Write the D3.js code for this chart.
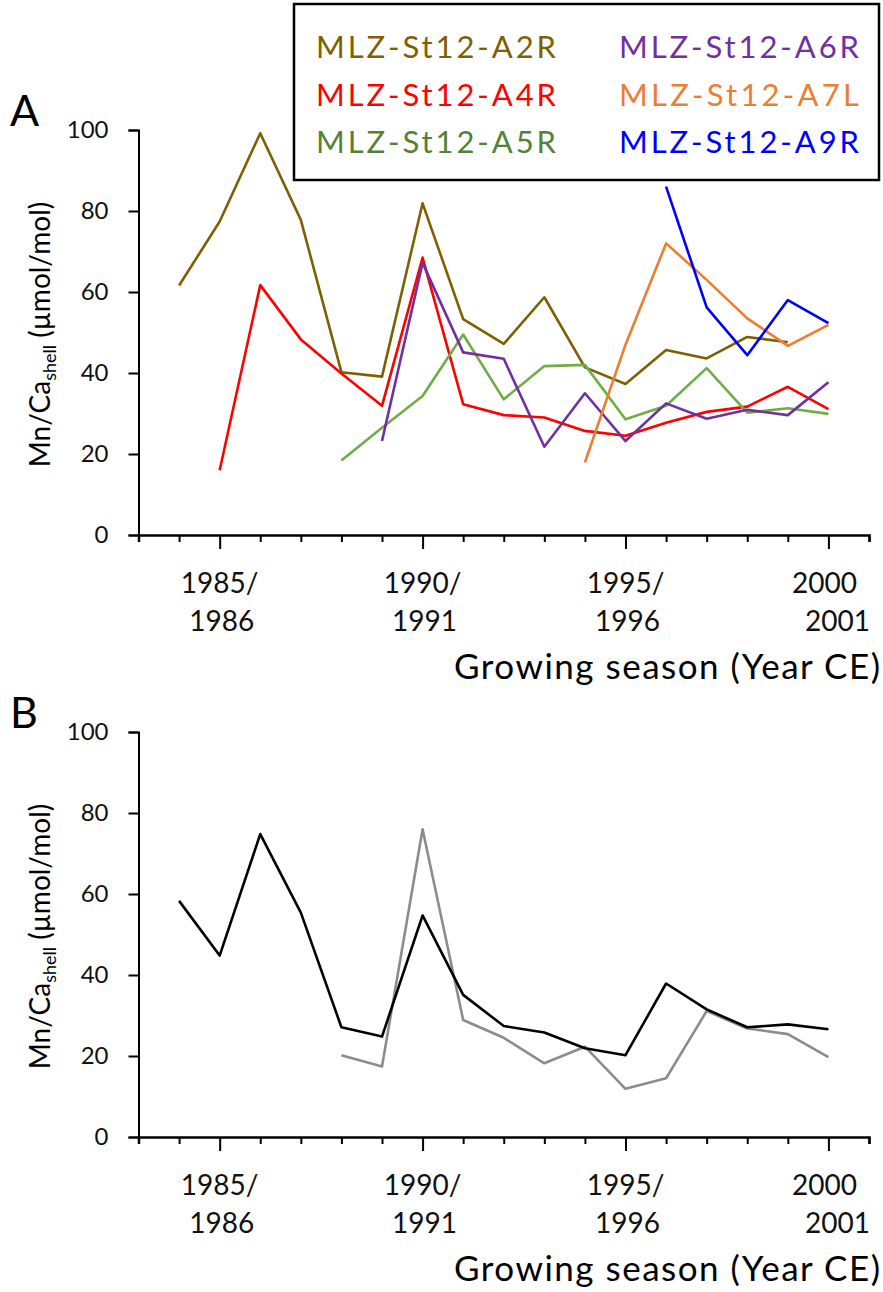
<!DOCTYPE html>
<html>
<head>
<meta charset="utf-8">
<script src="https://cdn.jsdelivr.net/npm/d3@7"></script>
<style>
  body { margin: 0; background: #fff; }
  text { font-family: Lato, "Open Sans", sans-serif; }
</style>
</head>
<body>
<script>
// width and height of the page
var w = 883;
var h = 1292;

// growing seasons (first year of season)
var years = [1984, 1985, 1986, 1987, 1988, 1989, 1990, 1991, 1992,
             1993, 1994, 1995, 1996, 1997, 1998, 1999, 2000];

// panel A, one array per shell (null = no data)
var a2r = [61.6, 77.4, 99.2, 77.8, 40.2, 39.1, 81.9, 53.3, 47.2, 58.7, 41.4, 37.3, 45.7, 43.6, 48.9, 47.6, null];
var a4r = [null, 16.0, 61.7, 48.3, 39.9, 31.9, 68.5, 32.3, 29.6, 29.0, 25.7, 24.5, 27.7, 30.4, 31.7, 36.6, 31.1];
var a5r = [null, null, null, null, 18.4, 26.5, 34.3, 49.5, 33.5, 41.7, 42.0, 28.6, 31.9, 41.2, 30.2, 31.3, 29.9];
var a6r = [null, null, null, null, null, 23.2, 67.2, 45.1, 43.5, 21.8, 35.0, 23.2, 32.5, 28.7, 30.9, 29.6, 37.7];
var a7l = [null, null, null, null, null, null, null, null, null, null, 17.9, 47.0, 72.0, 63.0, 53.5, 46.7, 51.9];
var a9r = [null, null, null, null, null, null, null, null, null, null, null, null, 86.0, 56.2, 44.4, 58.0, 52.3];

// panel B
var bBlack = [58.3, 44.8, 74.8, 55.4, 27.1, 24.8, 54.7, 35.1, 27.4, 25.8, 21.9, 20.2, 37.9, 31.5, 27.1, 27.8, 26.6];
var bGray  = [null, null, null, null, 20.2, 17.4, 76.0, 28.9, 24.5, 18.2, 22.3, 11.9, 14.5, 31.1, 26.8, 25.4, 19.7];

var seriesNames = ["MLZ-St12-A2R", "MLZ-St12-A4R", "MLZ-St12-A5R", "MLZ-St12-A6R", "MLZ-St12-A7L", "MLZ-St12-A9R"];
var seriesA = [a2r, a4r, a5r, a6r, a7l, a9r];
var lineColors = ["#7f6000", "#ff0000", "#70ad47", "#7030a0", "#ed7d31", "#0000ff"];
var textColors = ["#7f6000", "#ff0000", "#548235", "#7030a0", "#ed7d31", "#0000ff"];

var yTicks = [0, 20, 40, 60, 80, 100];
var majorYears = [1985, 1990, 1995, 2000];
var tickLabels = [["1985/", "1986"], ["1990/", "1991"], ["1995/", "1996"], ["2000", "2001"]];

var svg = d3.select("body")
            .append("svg")
            .attr("width", w)
            .attr("height", h);

var xScale = d3.scaleLinear()
               .domain([1983, 2001])
               .range([138.5, 869]);

var line = d3.line()
             .defined(function(d) { return d != null; })
             .x(function(d, i) { return xScale(years[i]); });

function drawPanel(top, bottom, letter, series, colors) {
  var yScale = d3.scaleLinear()
                 .domain([0, 100])
                 .range([bottom, top]);

  var g = svg.append("g");

  // y axis
  var yAxis = d3.axisLeft(yScale)
                .tickValues(yTicks)
                .tickSize(10)
                .tickPadding(20);
  var ya = g.append("g")
            .attr("transform", "translate(" + xScale(1983) + ",0)")
            .call(yAxis);
  ya.select(".domain").attr("stroke", "#000").attr("stroke-width", 2);
  ya.selectAll(".tick line").attr("stroke", "#000").attr("stroke-width", 2);
  ya.selectAll(".tick text")
    .attr("font-size", "24px")
    .attr("fill", "#111")
    .style("font-family", "Lato, sans-serif");

  // x axis, a tick every year, longer at the labelled years
  var xAxis = d3.axisBottom(xScale)
                .tickValues(d3.range(1984, 2002))
                .tickSize(7)
                .tickFormat("");
  var xa = g.append("g")
            .attr("transform", "translate(0," + bottom + ")")
            .call(xAxis);
  xa.select(".domain").attr("stroke", "#000").attr("stroke-width", 2.5);
  xa.selectAll(".tick line")
    .attr("stroke", "#000")
    .attr("stroke-width", 2)
    .attr("y2", function(d) { return majorYears.indexOf(d) >= 0 ? 14 : 7; });

  // two-line season labels
  var lab = g.selectAll(".season")
             .data(majorYears)
             .enter()
             .append("text")
             .attr("class", "season")
             .attr("text-anchor", "middle")
             .attr("font-size", "28px")
             .attr("fill", "#111");
  lab.append("tspan")
     .attr("x", function(d, i) { return xScale(d) - (i == 3 ? 4 : 0); })
     .attr("y", bottom + 58)
     .text(function(d, i) { return tickLabels[i][0]; });
  lab.append("tspan")
     .attr("x", function(d, i) { return xScale(d) + (i == 3 ? 9 : 2); })
     .attr("y", bottom + 96)
     .text(function(d, i) { return tickLabels[i][1]; });

  // axis titles
  g.append("text")
   .attr("x", 880)
   .attr("y", bottom + 144)
   .attr("text-anchor", "end")
   .attr("font-size", "35px")
   .attr("textLength", 426)
   .attr("lengthAdjust", "spacing")
   .attr("fill", "#000")
   .text("Growing season (Year CE)");

  var yt = g.append("text")
            .attr("transform", "translate(50," + ((top + bottom) / 2 + 2) + ") rotate(-90)")
            .attr("text-anchor", "middle")
            .attr("font-size", "28px")
            .attr("fill", "#000");
  yt.append("tspan").text("Mn/Ca");
  yt.append("tspan").attr("font-size", "18px").attr("dy", 6).text("shell");
  yt.append("tspan").attr("dy", -6).text(" (\u00b5mol/mol)");

  // panel letter
  g.append("text")
   .attr("x", 10)
   .attr("y", top - 4)
   .attr("font-size", "43px")
   .attr("fill", "#000")
   .text(letter);

  // lines
  g.selectAll(".series")
   .data(series)
   .enter()
   .append("path")
   .attr("class", "series")
   .attr("fill", "none")
   .attr("stroke", function(d, i) { return colors[i]; })
   .attr("stroke-width", 2.6)
   .attr("stroke-linejoin", "round")
   .attr("d", function(d) { return line.y(function(v) { return yScale(v); })(d); });
}

drawPanel(130, 535, "A", seriesA, lineColors);
drawPanel(732, 1137, "B", [bGray, bBlack], ["#8c8c8c", "#000000"]);

// legend box for panel A
svg.append("rect")
   .attr("x", 294)
   .attr("y", 4)
   .attr("width", 585)
   .attr("height", 176)
   .attr("fill", "#fff")
   .attr("stroke", "#000")
   .attr("stroke-width", 2.5);

svg.selectAll(".legend")
   .data(seriesNames)
   .enter()
   .append("text")
   .attr("class", "legend")
   .attr("x", function(d, i) { return i < 3 ? 316 : 619; })
   .attr("y", function(d, i) { return 58 + (i % 3) * 47.5; })
   .attr("font-size", "31px")
   .attr("textLength", 240)
   .attr("lengthAdjust", "spacing")
   .attr("fill", function(d, i) { return textColors[i]; })
   .text(function(d) { return d; });
</script>
</body>
</html>
